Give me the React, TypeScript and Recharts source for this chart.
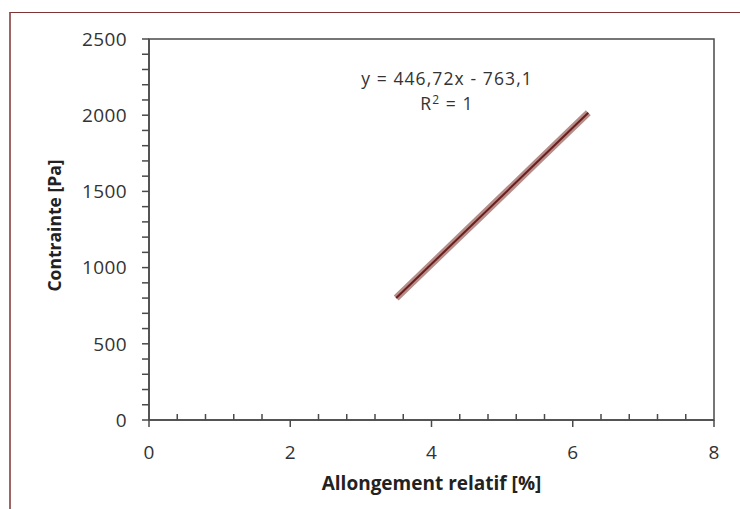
import React from "react";
import {
  ComposedChart,
  Line,
  XAxis,
  YAxis,
  ReferenceArea,
  ReferenceDot,
  Label,
} from "recharts";

// measured points (Allongement relatif [%], Contrainte [Pa])
const measured = [
  { x: 3.5, y: 800 },
  { x: 3.9, y: 979 },
  { x: 4.3, y: 1158 },
  { x: 4.7, y: 1336 },
  { x: 5.1, y: 1515 },
  { x: 5.5, y: 1694 },
  { x: 5.9, y: 1873 },
  { x: 6.22, y: 2016 },
];

// linear trend endpoints
const trend = [
  { x: 3.5, y: 800 },
  { x: 6.22, y: 2016 },
];

const xTicks = [
  0, 0.4, 0.8, 1.2, 1.6, 2, 2.4, 2.8, 3.2, 3.6, 4, 4.4, 4.8, 5.2, 5.6, 6, 6.4,
  6.8, 7.2, 7.6, 8,
];
const xMajor = [0, 2, 4, 6, 8];

const yTicks = [
  0, 100, 200, 300, 400, 500, 600, 700, 800, 900, 1000, 1100, 1200, 1300, 1400,
  1500, 1600, 1700, 1800, 1900, 2000, 2100, 2200, 2300, 2400, 2500,
];
const yMajor = [0, 500, 1000, 1500, 2000, 2500];

const equation = "y = 446,72x - 763,1";
const FONT = "'Open Sans', Lato, sans-serif";
const AXIS = "#4a4a4a";

function YTick(props: any) {
  const { x, y, payload } = props;
  const major = yMajor.includes(payload.value);
  return (
    <g>
      <line x1={x - 7} y1={y} x2={x} y2={y} stroke={AXIS} strokeWidth={1.5} />
      {major && (
        <text
          x={x - 22}
          y={y}
          dy="0.36em"
          textAnchor="end"
          fontFamily={FONT}
          fontSize={19}
          letterSpacing={0.4}
          fill="#333"
        >
          {payload.value}
        </text>
      )}
    </g>
  );
}

function XTick(props: any) {
  const { x, y, payload } = props;
  const major = xMajor.includes(payload.value);
  return (
    <g>
      {major ? (
        <line x1={x} y1={y} x2={x} y2={y + 7} stroke={AXIS} strokeWidth={1.5} />
      ) : (
        <line x1={x} y1={y - 6} x2={x} y2={y} stroke={AXIS} strokeWidth={1.5} />
      )}
      {major && (
        <text
          x={x}
          y={y + 39}
          textAnchor="middle"
          fontFamily={FONT}
          fontSize={19}
          fill="#333"
        >
          {payload.value}
        </text>
      )}
    </g>
  );
}

function EquationText(props: any) {
  const { cx, cy } = props;
  return (
    <g fontFamily={FONT} fontSize={17.5} letterSpacing={1.1} fill="#333" textAnchor="middle">
      <text x={cx} y={cy}>
        {equation}
      </text>
      <text x={cx} y={cy + 25}>
        R<tspan dy={-6} fontSize={12}>2</tspan>
        <tspan dy={6}> = 1</tspan>
      </text>
    </g>
  );
}

export default function App() {
  return (
    <div style={{ position: "absolute", left: 0, top: 0, width: 740, height: 509, background: "#fff", overflow: "hidden" }}>
      <div
        style={{
          position: "absolute",
          left: 9,
          top: 12,
          width: 760,
          height: 520,
          borderTop: "1.5px solid #7d3434",
          borderLeft: "2px solid #9c6666",
        }}
      />
      <div style={{ position: "absolute", left: 0, top: 0 }}>
        <ComposedChart
          width={740}
          height={509}
          margin={{ top: 39, right: 26, bottom: 0, left: 0 }}
        >
          <XAxis
            type="number"
            dataKey="x"
            domain={[0, 8]}
            ticks={xTicks}
            interval={0}
            height={89}
            tickSize={0}
            tickMargin={0}
            tickLine={false}
            tick={<XTick />}
            axisLine={{ stroke: AXIS, strokeWidth: 1.5 }}
            allowDataOverflow
          >
            <Label
              content={(p: any) => {
                const vb = p.viewBox;
                return (
                  <text
                    x={vb.x + vb.width / 2}
                    y={vb.y + 70}
                    textAnchor="middle"
                    fontFamily={FONT}
                    fontWeight="bold"
                    fontSize={19}
                    fill="#222"
                  >
                    Allongement relatif [%]
                  </text>
                );
              }}
            />
          </XAxis>
          <YAxis
            type="number"
            dataKey="y"
            domain={[0, 2500]}
            ticks={yTicks}
            interval={0}
            width={149}
            tickSize={0}
            tickMargin={0}
            tickLine={false}
            tick={<YTick />}
            axisLine={{ stroke: AXIS, strokeWidth: 1.5 }}
            allowDataOverflow
          >
            <Label
              content={(p: any) => {
                const vb = p.viewBox;
                const cx = 54;
                const cy = vb.y + vb.height / 2 - 4;
                return (
                  <text
                    x={cx}
                    y={cy}
                    transform={`rotate(-90 ${cx} ${cy})`}
                    textAnchor="middle"
                    dominantBaseline="central"
                    fontFamily={FONT}
                    fontWeight="bold"
                    fontSize={17.5}
                    fill="#222"
                  >
                    Contrainte [Pa]
                  </text>
                );
              }}
            />
          </YAxis>
          <ReferenceArea
            x1={0}
            x2={8}
            y1={0}
            y2={2500}
            fill="none"
            stroke={AXIS}
            strokeWidth={1.5}
            ifOverflow="visible"
          />
          <Line
            data={measured}
            dataKey="y"
            type="linear"
            stroke="#a2706b"
            strokeOpacity={0.8}
            strokeWidth={7}
            dot={false}
            isAnimationActive={false}
          />
          <Line
            data={trend}
            dataKey="y"
            type="linear"
            stroke="#6b1d1d"
            strokeWidth={2}
            dot={false}
            isAnimationActive={false}
          />
          <ReferenceDot
            x={4.22}
            y={2198}
            r={0}
            shape={<EquationText />}
            ifOverflow="visible"
          />
        </ComposedChart>
      </div>
    </div>
  );
}
